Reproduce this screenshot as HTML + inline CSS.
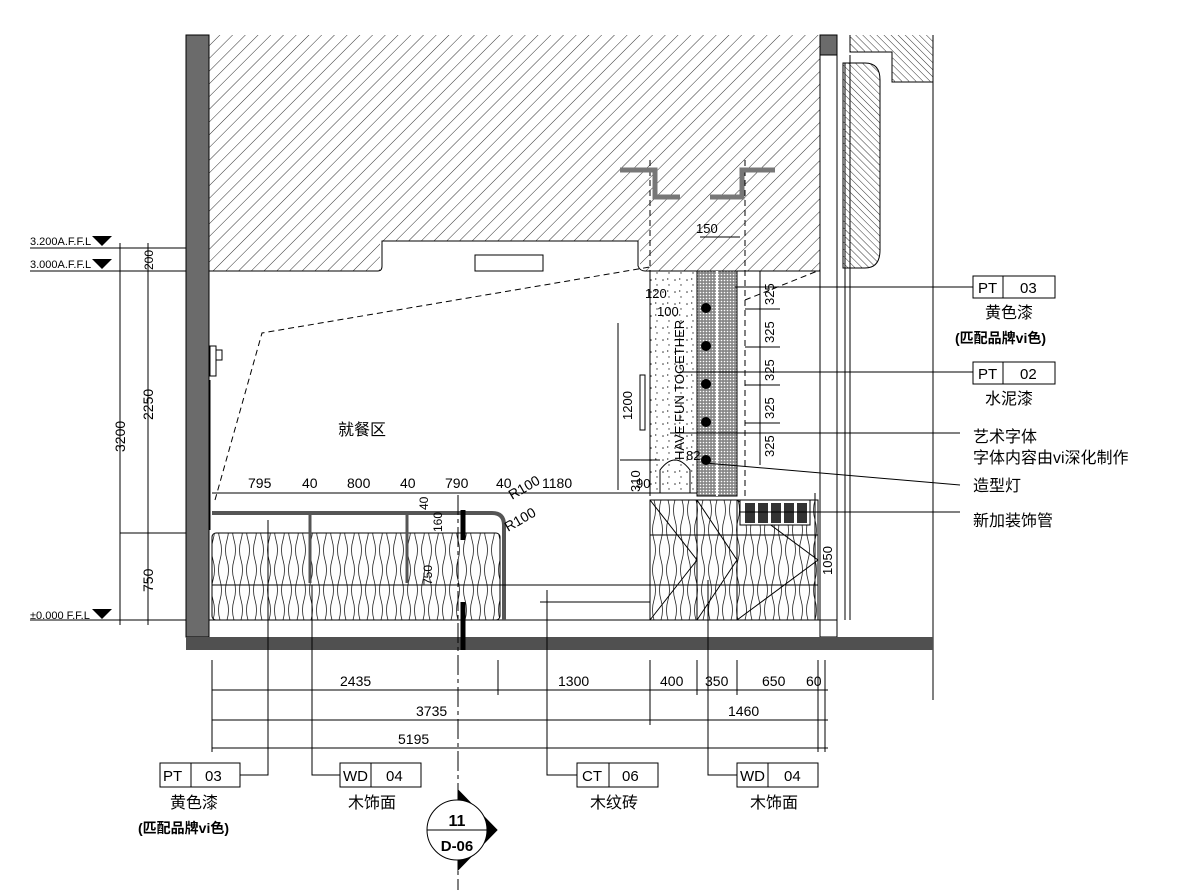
<!DOCTYPE html>
<html><head><meta charset="utf-8"><style>
body{margin:0;background:#fff}
svg{display:block;font-family:"Liberation Sans","Noto Sans CJK SC",sans-serif}
</style></head><body>
<svg width="1186" height="890" viewBox="0 0 1186 890" xmlns="http://www.w3.org/2000/svg">
<defs>
<pattern id="h" width="9" height="9" patternUnits="userSpaceOnUse" patternTransform="rotate(45)">
<line x1="0" y1="0" x2="0" y2="9" stroke="#333" stroke-width="1"/></pattern>
<pattern id="h2" width="5" height="5" patternUnits="userSpaceOnUse" patternTransform="rotate(-45)">
<line x1="0" y1="0" x2="0" y2="5" stroke="#333" stroke-width="1"/></pattern>
<pattern id="w" width="14" height="40" patternUnits="userSpaceOnUse">
<path d="M3 0 q3 10 0 20 q-3 10 0 20 M10 0 q-3 10 0 20 q3 10 0 20" stroke="#222" fill="none" stroke-width="0.8"/></pattern>
<pattern id="dots" width="12" height="12" patternUnits="userSpaceOnUse">
<circle cx="3" cy="4" r="0.8" fill="#333"/><circle cx="9" cy="9" r="0.7" fill="#333"/><path d="M7 2 l2 1 l-2 1z" fill="#555"/></pattern>
<pattern id="dk" width="3" height="3" patternUnits="userSpaceOnUse">
<rect width="3" height="3" fill="#888"/><circle cx="1.5" cy="1.5" r="0.8" fill="#fff"/></pattern>
</defs>
<g stroke="#000" fill="none" stroke-width="1">
<path d="M209 35 H820 V271 H640 V241 H380 V271 H209 Z" fill="url(#h)" stroke="none"/>
<path d="M209 271 H378 Q382 271 382 266 V241 H638 V266 Q640 271 645 271 H820"/>
<rect x="475" y="255" width="68" height="16"/>
<rect x="186" y="35" width="23" height="602" fill="#6b6b6b" stroke="#000"/>
<rect x="820" y="35" width="17" height="20" fill="#6b6b6b"/>
<line x1="820" y1="55" x2="820" y2="637"/><line x1="837" y1="55" x2="837" y2="637"/>
<line x1="845" y1="63" x2="845" y2="620"/><line x1="850" y1="55" x2="850" y2="620"/>
<path d="M843 63 H865 Q880 63 880 80 V250 Q880 268 865 268 H843 Z" fill="url(#h2)"/>
<path d="M850 35 V52 H892 V82 H933" />
<path d="M850 35 H933 V82 H892 V52 H850 Z" fill="url(#h2)" stroke="none"/>
<rect x="820" y="620" width="17" height="17"/>
<line x1="933" y1="35" x2="933" y2="700"/>
<rect x="186" y="637" width="747" height="13" fill="#505050" stroke="none"/>
<line x1="209" y1="620" x2="820" y2="620"/>
<g font-size="11" fill="#000" stroke="none">
<text x="30" y="245">3.200A.F.F.L</text><text x="30" y="268">3.000A.F.F.L</text><text x="30" y="619">±0.000 F.F.L</text>
<path d="M92 236 h20 l-10 10z M92 259 h20 l-10 10z M92 609 h20 l-10 10z"/>
</g>
<path d="M30 248 H186 M30 271 H186 M30 620 H186 M120 533 H186"/>
<line x1="120" y1="243" x2="120" y2="625"/><line x1="148" y1="243" x2="148" y2="625"/>
<g font-size="14" fill="#000" stroke="none">
<text transform="translate(125,452) rotate(-90)">3200</text>
<text transform="translate(153,270) rotate(-90)" font-size="12">200</text>
<text transform="translate(153,420) rotate(-90)">2250</text>
<text transform="translate(153,592) rotate(-90)">750</text>
</g>
<path d="M215 500 L262 333 L650 267 M745 300 L820 270 M650 160 V620 M745 160 V500" stroke-dasharray="6 4"/>
<path d="M210 346 h6 v30 h-6z M216 350 h6 v10 h-6z M210 380 V530"/>
<path d="M620 170 H655 V197 H680 M710 197 H742 V170 H775" stroke="#777" stroke-width="5"/>
<rect x="212" y="533" width="288" height="87" fill="url(#w)" rx="4"/>
<path d="M212 513 H492 Q504 513 504 525 V620" stroke="#555" stroke-width="4"/>
<line x1="212" y1="493" x2="650" y2="493"/>
<path d="M310 513 V583 M407 513 V583" stroke="#555" stroke-width="3"/>
<path d="M212 585 H650 M540 602 H650"/>
<path d="M463 510 V540 M463 602 V650" stroke-width="5"/>
<line x1="458" y1="495" x2="458" y2="890" stroke-dasharray="20 4 4 4"/>
<g font-size="14" fill="#000" stroke="none">
<text x="248" y="488">795</text><text x="302" y="488">40</text><text x="347" y="488">800</text>
<text x="400" y="488">40</text><text x="445" y="488">790</text><text x="496" y="488">40</text>
<text x="542" y="488">1180</text>
<text transform="translate(512,500) rotate(-30)">R100</text>
<text transform="translate(508,532) rotate(-30)">R100</text>
<text transform="translate(428,510) rotate(-90)" font-size="12">40</text>
<text transform="translate(442,532) rotate(-90)" font-size="12">160</text>
<text transform="translate(432,585) rotate(-90)" font-size="12">750</text>
<text x="338" y="435" font-size="16">就餐区</text>
</g>
<rect x="650" y="271" width="47" height="222" fill="url(#dots)"/>
<rect x="697" y="271" width="40" height="225" fill="url(#dk)"/>
<line x1="717" y1="271" x2="717" y2="496" stroke="#fff" stroke-width="2"/>
<g fill="#000" stroke="none">
<circle cx="706" cy="308" r="5"/><circle cx="706" cy="346" r="5"/><circle cx="706" cy="384" r="5"/><circle cx="706" cy="422" r="5"/><circle cx="706" cy="460" r="5"/>
<text transform="translate(684,460) rotate(-90)" font-size="13">HAVE FUN TOGETHER</text>
</g>
<path d="M660 493 V470 Q675 450 690 470 V493 Z"/>
<rect x="640" y="375" width="5" height="55"/>
<g font-size="13" fill="#000" stroke="none">
<text x="645" y="298">120</text><text x="657" y="316">100</text><text x="696" y="233">150</text>
<text transform="translate(632,420) rotate(-90)">1200</text>
<text transform="translate(640,492) rotate(-90)">310</text><text x="636" y="488">90</text>
<text x="686" y="460">82</text>
<text transform="translate(774,305) rotate(-90)">325</text>
<text transform="translate(774,343) rotate(-90)">325</text>
<text transform="translate(774,381) rotate(-90)">325</text>
<text transform="translate(774,419) rotate(-90)">325</text>
<text transform="translate(774,457) rotate(-90)">325</text>
<text transform="translate(832,575) rotate(-90)">1050</text>
</g>
<path d="M618 323 V490 M620 460 H660 M620 493 H660 M760 271 V465 M745 309 H780 M745 347 H780 M745 385 H780 M745 423 H780 M700 237 H740 M815 493 V620"/>
<rect x="650" y="500" width="168" height="120" fill="url(#w)"/>
<path d="M697 500 V620 M737 500 V620 M650 535 H818 M650 585 H818 M650 500 L697 560 L650 620 M697 500 L737 560 L697 620 M737 500 L818 560 L737 620"/>
<rect x="740" y="500" width="70" height="25" fill="#fff"/>
<g fill="#333" stroke="none"><rect x="745" y="503" width="10" height="20"/><rect x="758" y="503" width="10" height="20"/><rect x="771" y="503" width="10" height="20"/><rect x="784" y="503" width="10" height="20"/><rect x="797" y="503" width="10" height="20"/></g>
<path d="M735 287 H973 M680 372 H973 M670 433 H960 M705 463 L960 485 M740 512 H960"/>
<rect x="973" y="276" width="82" height="22"/><line x1="1003" y1="276" x2="1003" y2="298"/>
<rect x="973" y="362" width="82" height="22"/><line x1="1003" y1="362" x2="1003" y2="384"/>
<g font-size="15" fill="#000" stroke="none">
<text x="978" y="293">PT</text><text x="1020" y="293">03</text>
<text x="985" y="318" font-size="16">黄色漆</text>
<text x="955" y="343" font-size="14" font-weight="bold">(匹配品牌vi色)</text>
<text x="978" y="379">PT</text><text x="1020" y="379">02</text>
<text x="985" y="404" font-size="16">水泥漆</text>
<text x="973" y="442" font-size="16">艺术字体</text>
<text x="973" y="463" font-size="16">字体内容由vi深化制作</text>
<text x="973" y="491" font-size="16">造型灯</text>
<text x="973" y="526" font-size="16">新加装饰管</text>
</g>
<path d="M212 660 V752 M498 660 V695 M650 660 V725 M697 660 V695 M737 660 V695 M818 660 V752 M825 660 V752"/>
<path d="M212 690 H828 M212 720 H828 M212 748 H828"/>
<g font-size="14" fill="#000" stroke="none">
<text x="340" y="686">2435</text><text x="558" y="686">1300</text><text x="660" y="686">400</text><text x="705" y="686">350</text><text x="762" y="686">650</text><text x="806" y="686">60</text>
<text x="416" y="716">3735</text><text x="728" y="716">1460</text><text x="398" y="744">5195</text>
</g>
<path d="M268 520 V775 H240 M312 585 V775 H340 M547 590 V775 H577 M708 580 V775 H737"/>
<rect x="160" y="763" width="80" height="24"/><line x1="191" y1="763" x2="191" y2="787"/>
<rect x="340" y="763" width="81" height="24"/><line x1="371" y1="763" x2="371" y2="787"/>
<rect x="577" y="763" width="81" height="24"/><line x1="609" y1="763" x2="609" y2="787"/>
<rect x="737" y="763" width="81" height="24"/><line x1="768" y1="763" x2="768" y2="787"/>
<g font-size="15" fill="#000" stroke="none">
<text x="163" y="781">PT</text><text x="205" y="781">03</text>
<text x="343" y="781">WD</text><text x="386" y="781">04</text>
<text x="582" y="781">CT</text><text x="622" y="781">06</text>
<text x="740" y="781">WD</text><text x="784" y="781">04</text>
<text x="170" y="808" font-size="16">黄色漆</text>
<text x="138" y="833" font-size="14" font-weight="bold">(匹配品牌vi色)</text>
<text x="348" y="808" font-size="16">木饰面</text>
<text x="590" y="808" font-size="16">木纹砖</text>
<text x="750" y="808" font-size="16">木饰面</text>
</g>
<path d="M458 790 L497 830 L458 870 Z" fill="#000"/>
<circle cx="457" cy="830" r="30" fill="#fff"/>
<line x1="427" y1="830" x2="487" y2="830"/>
<g fill="#000" stroke="none" font-weight="bold" text-anchor="middle">
<text x="457" y="826" font-size="16">11</text><text x="457" y="851" font-size="15">D-06</text>
</g>
</g>
</svg>
</body></html>
